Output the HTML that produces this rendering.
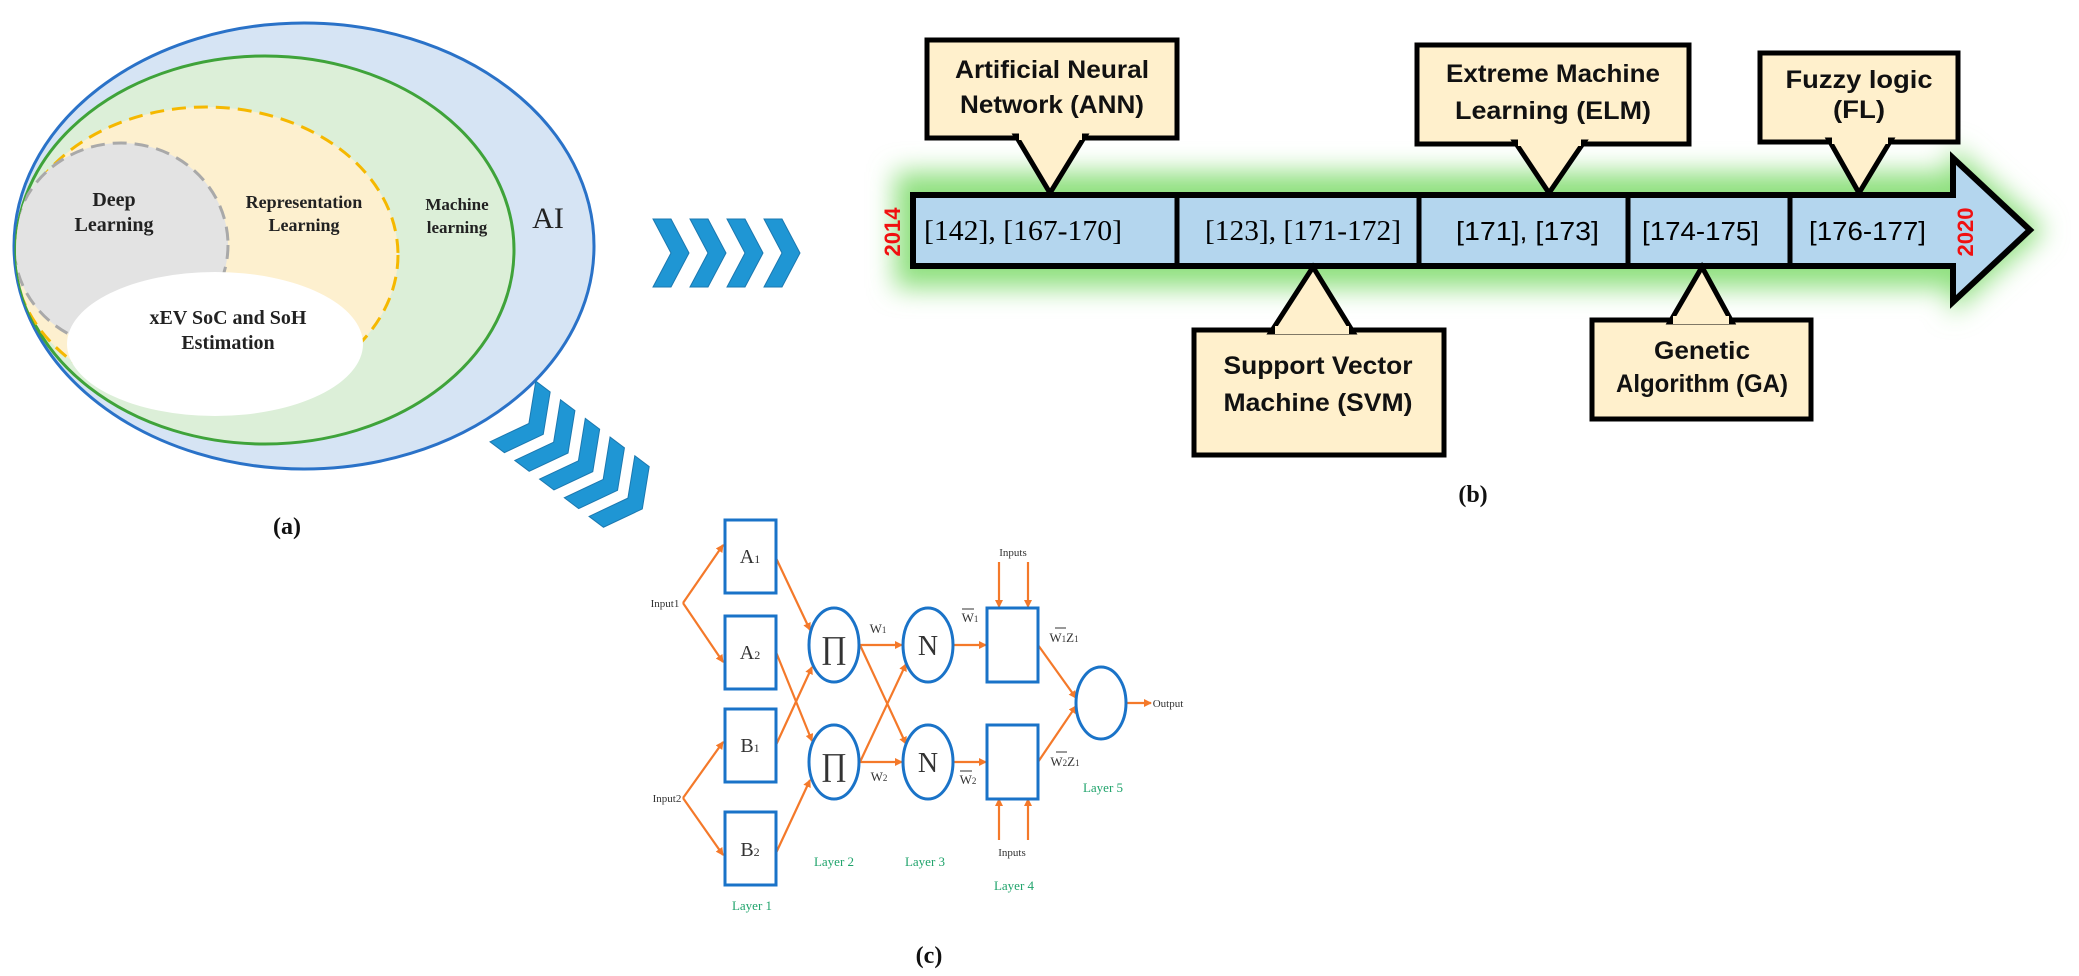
<!DOCTYPE html>
<html><head><meta charset="utf-8"><style>html,body{margin:0;padding:0;background:#fff;}svg{display:block}</style></head>
<body>
<svg width="2079" height="976" viewBox="0 0 2079 976" xmlns="http://www.w3.org/2000/svg">
<defs>
<filter id="blur" x="-20%" y="-80%" width="140%" height="260%"><feGaussianBlur stdDeviation="13"/></filter>
<clipPath id="gclip"><ellipse cx="265" cy="250" rx="249" ry="194"/></clipPath>
<marker id="ar" markerWidth="8" markerHeight="8" refX="7" refY="4" orient="auto" markerUnits="userSpaceOnUse"><path d="M0,0 L8,4 L0,8 z" fill="#f4792a"/></marker>
</defs>

<!-- (a) Venn -->
<ellipse cx="304" cy="246" rx="290" ry="223" fill="#d6e4f4" stroke="#2a72c8" stroke-width="3"/>
<ellipse cx="265" cy="250" rx="249" ry="194" fill="#dcefd8" stroke="#3fa33a" stroke-width="3"/>
<g clip-path="url(#gclip)">
<ellipse cx="206" cy="255" rx="192" ry="148" fill="#fdf0cf" stroke="#f5b800" stroke-width="3" stroke-dasharray="14,8"/>
<ellipse cx="121" cy="245" rx="107" ry="102" fill="#e3e3e3" stroke="#a9a9a9" stroke-width="3" stroke-dasharray="14,8"/>
</g>
<ellipse cx="215" cy="344" rx="148" ry="72" fill="#fff"/>
<g font-family="Liberation Serif, serif" font-weight="bold" fill="#222" text-anchor="middle">
<text x="114" y="206" font-size="20">Deep</text>
<text x="114" y="231" font-size="20">Learning</text>
<text x="304" y="208" font-size="18">Representation</text>
<text x="304" y="231" font-size="18">Learning</text>
<text x="457" y="210" font-size="17">Machine</text>
<text x="457" y="233" font-size="17">learning</text>
<text x="228" y="324" font-size="20">xEV SoC and SoH</text>
<text x="228" y="349" font-size="20">Estimation</text>
</g>
<text x="548" y="228" font-family="Liberation Serif, serif" font-size="30" fill="#222" text-anchor="middle">AI</text>
<text x="287" y="534" font-family="Liberation Serif, serif" font-weight="bold" font-size="24" fill="#111" text-anchor="middle">(a)</text>

<!-- horizontal chevrons -->
<g fill="#1f96d4" stroke="#1b78b0" stroke-width="1">
<polygon points="653,219 671,219 689,253 671,287 653,287 671,253"/>
<polygon points="690,219 708,219 726,253 708,287 690,287 708,253"/>
<polygon points="727,219 745,219 763,253 745,287 727,287 745,253"/>
<polygon points="764,219 782,219 800,253 782,287 764,287 782,253"/>
</g>
<!-- diagonal chevrons -->
<g fill="#1f96d4" stroke="#1b78b0" stroke-width="1" transform="translate(580,462) rotate(37) translate(-84,-38)">
<polygon points="0,0 18,0 38,38 18,76 0,76 20,38"/>
<polygon points="31,0 49,0 69,38 49,76 31,76 51,38"/>
<polygon points="62,0 80,0 100,38 80,76 62,76 82,38"/>
<polygon points="93,0 111,0 131,38 111,76 93,76 113,38"/>
<polygon points="124,0 142,0 162,38 142,76 124,76 144,38"/>
</g>

<!-- (b) timeline -->
<polygon points="895,172 1950,172 1950,145 2045,230 1950,315 1950,288 895,288" fill="#8fe07f" filter="url(#blur)"/>
<polygon points="913,195 1953,195 1953,158 2030,230 1953,302 1953,266 913,266" fill="#b4d6ee" stroke="#000" stroke-width="6" stroke-linejoin="miter"/>
<g stroke="#000" stroke-width="5">
<line x1="1177" y1="195" x2="1177" y2="266"/>
<line x1="1419" y1="195" x2="1419" y2="266"/>
<line x1="1628" y1="195" x2="1628" y2="266"/>
<line x1="1790" y1="195" x2="1790" y2="266"/>
</g>
<g font-family="Liberation Serif, serif" font-size="28" fill="#000">
<text x="924" y="240" textLength="198" lengthAdjust="spacingAndGlyphs">[142], [167-170]</text>
<text x="1205" y="240" textLength="196" lengthAdjust="spacingAndGlyphs">[123], [171-172]</text>
</g>
<g font-family="Liberation Sans, sans-serif" font-size="26" fill="#000">
<text x="1456" y="240" textLength="143" lengthAdjust="spacingAndGlyphs">[171], [173]</text>
<text x="1642" y="240" textLength="117" lengthAdjust="spacingAndGlyphs">[174-175]</text>
<text x="1809" y="240" textLength="117" lengthAdjust="spacingAndGlyphs">[176-177]</text>
</g>
<text transform="translate(900,232) rotate(-90)" font-family="Liberation Sans, sans-serif" font-weight="bold" font-size="22" fill="#f01010" text-anchor="middle">2014</text>
<text transform="translate(1973,232) rotate(-90)" font-family="Liberation Sans, sans-serif" font-weight="bold" font-size="22" fill="#f01010" text-anchor="middle">2020</text>

<!-- callouts -->
<g fill="#fff0cc" stroke="#000" stroke-width="5" stroke-linejoin="miter">
<rect x="927" y="40" width="250" height="98"/>
<polygon points="1016,136 1050,193 1085,136"/>
<rect x="1417" y="45" width="272" height="99"/>
<polygon points="1515,142 1549,193 1584,142"/>
<rect x="1760" y="53" width="198" height="89"/>
<polygon points="1829,140 1859,193 1891,140"/>
<rect x="1194" y="330" width="250" height="125"/>
<polygon points="1271,332 1313,267 1353,332"/>
<rect x="1592" y="320" width="219" height="99"/>
<polygon points="1670,322 1702,267 1732,322"/>
</g>
<g fill="#fff0cc">
<rect x="1019" y="132" width="63" height="8"/>
<rect x="1518" y="138" width="63" height="8"/>
<rect x="1832" y="136" width="56" height="8"/>
<rect x="1275" y="326" width="74" height="8"/>
<rect x="1673" y="316" width="56" height="8"/>
</g>
<g font-family="Liberation Sans, sans-serif" font-weight="bold" font-size="25" fill="#111" text-anchor="middle">
<text x="1052" y="78" textLength="194" lengthAdjust="spacingAndGlyphs">Artificial Neural</text>
<text x="1052" y="113" textLength="184" lengthAdjust="spacingAndGlyphs">Network (ANN)</text>
<text x="1553" y="82" textLength="214" lengthAdjust="spacingAndGlyphs">Extreme Machine</text>
<text x="1553" y="119" textLength="196" lengthAdjust="spacingAndGlyphs">Learning (ELM)</text>
<text x="1859" y="88" textLength="147" lengthAdjust="spacingAndGlyphs">Fuzzy logic</text>
<text x="1859" y="118" textLength="52" lengthAdjust="spacingAndGlyphs">(FL)</text>
<text x="1318" y="374" textLength="189" lengthAdjust="spacingAndGlyphs">Support Vector</text>
<text x="1318" y="411" textLength="189" lengthAdjust="spacingAndGlyphs">Machine (SVM)</text>
<text x="1702" y="359" textLength="96" lengthAdjust="spacingAndGlyphs">Genetic</text>
<text x="1702" y="392" textLength="172" lengthAdjust="spacingAndGlyphs">Algorithm (GA)</text>
</g>
<text x="1473" y="502" font-family="Liberation Serif, serif" font-weight="bold" font-size="24" fill="#111" text-anchor="middle">(b)</text>

<!-- (c) network -->
<g stroke="#f4792a" stroke-width="2.2" fill="none" marker-end="url(#ar)">
<line x1="683" y1="603" x2="723" y2="545"/>
<line x1="683" y1="603" x2="723" y2="662"/>
<line x1="683" y1="798" x2="723" y2="742"/>
<line x1="683" y1="798" x2="723" y2="855"/>
<line x1="776" y1="558" x2="810" y2="630"/>
<line x1="776" y1="652" x2="812" y2="741"/>
<line x1="776" y1="745" x2="812" y2="667"/>
<line x1="776" y1="853" x2="810" y2="780"/>
<line x1="860" y1="645" x2="902" y2="645"/>
<line x1="860" y1="645" x2="906" y2="744"/>
<line x1="860" y1="762" x2="906" y2="664"/>
<line x1="860" y1="762" x2="902" y2="762"/>
<line x1="953" y1="645" x2="986" y2="645"/>
<line x1="953" y1="762" x2="986" y2="762"/>
<line x1="1038" y1="645" x2="1076" y2="698"/>
<line x1="1038" y1="762" x2="1076" y2="706"/>
<line x1="1127" y1="703" x2="1151" y2="703"/>
<line x1="999" y1="562" x2="999" y2="607"/>
<line x1="1028" y1="562" x2="1028" y2="607"/>
<line x1="999" y1="840" x2="999" y2="799"/>
<line x1="1028" y1="840" x2="1028" y2="799"/>
</g>
<g stroke="#1a73c8" stroke-width="3" fill="#fff">
<rect x="725" y="520" width="51" height="73"/>
<rect x="725" y="616" width="51" height="73"/>
<rect x="725" y="709" width="51" height="73"/>
<rect x="725" y="812" width="51" height="73"/>
<ellipse cx="834" cy="645" rx="25" ry="37"/>
<ellipse cx="834" cy="762" rx="25" ry="37"/>
<ellipse cx="928" cy="645" rx="25" ry="37"/>
<ellipse cx="928" cy="762" rx="25" ry="37"/>
<rect x="987" y="608" width="51" height="74"/>
<rect x="987" y="725" width="51" height="74"/>
<ellipse cx="1101" cy="703" rx="25" ry="36"/>
</g>
<g font-family="Liberation Serif, serif" fill="#333" text-anchor="middle">
<text x="750" y="563" font-size="20">A<tspan font-size="12">1</tspan></text>
<text x="750" y="659" font-size="20">A<tspan font-size="12">2</tspan></text>
<text x="750" y="752" font-size="20">B<tspan font-size="12">1</tspan></text>
<text x="750" y="856" font-size="20">B<tspan font-size="12">2</tspan></text>
<text x="834" y="658" font-size="32">∏</text>
<text x="834" y="775" font-size="32">∏</text>
<text x="928" y="655" font-size="28">N</text>
<text x="928" y="772" font-size="28">N</text>
<text x="665" y="607" font-size="11">Input1</text>
<text x="667" y="802" font-size="11">Input2</text>
<text x="1013" y="556" font-size="11">Inputs</text>
<text x="1012" y="856" font-size="11">Inputs</text>
<text x="1168" y="707" font-size="11">Output</text>
<text x="878" y="633" font-size="13">W<tspan font-size="9">1</tspan></text>
<text x="879" y="781" font-size="13">W<tspan font-size="9">2</tspan></text>
<text x="970" y="622" font-size="13">W<tspan font-size="9">1</tspan></text>
<text x="968" y="784" font-size="13">W<tspan font-size="9">2</tspan></text>
<text x="1064" y="642" font-size="13">W<tspan font-size="9">1</tspan>Z<tspan font-size="9">1</tspan></text>
<text x="1065" y="766" font-size="13">W<tspan font-size="9">2</tspan>Z<tspan font-size="9">1</tspan></text>
</g>
<g stroke="#333" stroke-width="1"><line x1="962" y1="609" x2="974" y2="609"/><line x1="960" y1="771" x2="972" y2="771"/><line x1="1055" y1="628" x2="1066" y2="628"/><line x1="1056" y1="752" x2="1067" y2="752"/></g>
<g font-family="Liberation Serif, serif" fill="#1fa36b" text-anchor="middle" font-size="13">
<text x="752" y="910">Layer 1</text>
<text x="834" y="866">Layer 2</text>
<text x="925" y="866">Layer 3</text>
<text x="1014" y="890">Layer 4</text>
<text x="1103" y="792">Layer 5</text>
</g>
<text x="929" y="963" font-family="Liberation Serif, serif" font-weight="bold" font-size="24" fill="#111" text-anchor="middle">(c)</text>
</svg>
</body></html>
